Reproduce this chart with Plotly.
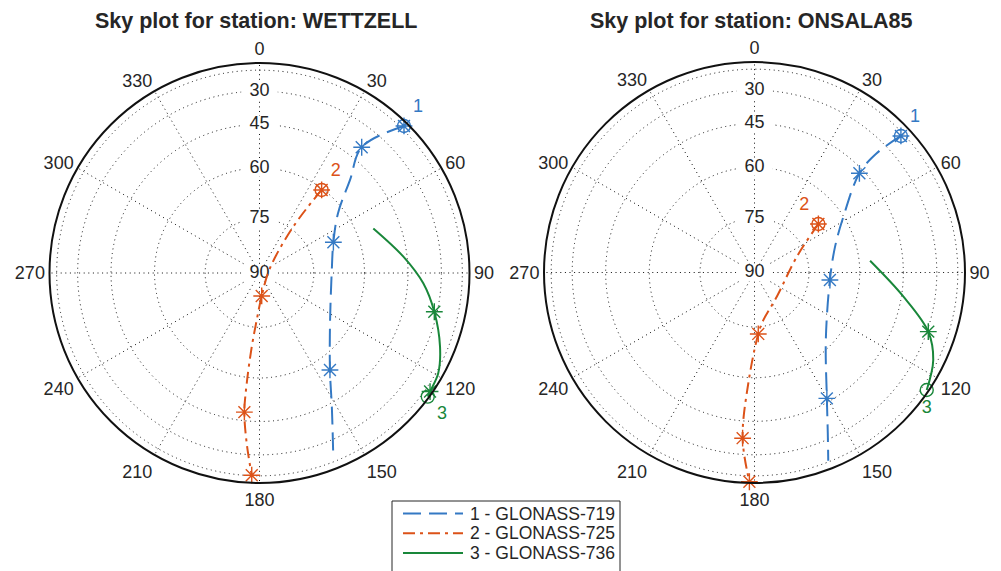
import numpy as np
import plotly.graph_objects as go

# ---- stations and satellites ----
stations = ["WETTZELL", "ONSALA85"]
sat_names = ["1 - GLONASS-719", "2 - GLONASS-725", "3 - GLONASS-736"]
sat_tags = ["1", "2", "3"]

# ---- azimuth / elevation tracks (degrees) ----
# WETTZELL
wtz_az_1 = [44.5, 39.1, 44.2, 52.6, 67.4, 90.2, 125.3, 144.0, 151.6, 157.6]
wtz_el_1 = [11.0, 39.5, 51.8, 61.9, 67.6, 69.9, 65.7, 55.2, 43.6, 23.0]
wtz_star_1 = [0, 1, 4, 7]
wtz_circ_1 = 0

wtz_az_2 = [36.8, 36.1, 65.9, 174.5, 183.4, 186.0, 186.6, 186.2, 184.3, 182.2]
wtz_el_2 = [60.4, 74.2, 86.9, 83.7, 77.0, 69.3, 58.1, 48.2, 35.6, 15.5]
wtz_star_2 = [0, 3, 7, 9]
wtz_circ_2 = 0

wtz_az_3 = [68.6, 83.5, 93.6, 102.5, 112.2, 119.3, 124.8, 126.3]
wtz_el_3 = [54.4, 46.4, 38.6, 31.5, 21.8, 12.6, 8.5, 6.2]
wtz_star_3 = [3, 6]
wtz_circ_3 = 7

# ONSALA85
ons_az_1 = [47.0, 45.7, 46.6, 57.9, 72.2, 95.7, 133.4, 150.1, 155.5, 158.6]
ons_el_1 = [18.0, 35.8, 46.7, 60.1, 66.3, 68.9, 62.2, 46.4, 32.9, 16.2]
ons_star_1 = [0, 2, 5, 7]
ons_circ_1 = 0

ons_az_2 = [52.8, 69.5, 137.5, 169.5, 176.5, 183.2, 184.1, 181.4]
ons_el_2 = [67.6, 77.6, 81.0, 76.7, 73.0, 58.2, 37.9, 6.1]
ons_star_2 = [0, 4, 6, 7]
ons_circ_2 = 0

ons_az_3 = [84.2, 99.2, 108.8, 116.1, 124.3]
ons_el_3 = [56.5, 44.2, 29.3, 19.0, 7.9]
ons_star_3 = [2]
ons_circ_3 = 4

# ---- axis labels ----
az_ticks = list(range(0, 360, 30))
az_ticktext = [str(a) for a in az_ticks]
el_labels = [90, 75, 60, 45, 30]
el_rings = [75, 60, 45, 30, 15]

# ---- styling ----
colors = ["#3479C4", "#DC5218", "#19873A"]
dashes = ["18px,8px", "12px,5px,3px,5px", "solid"]
label_pos = [
    ["top right", "top right", "bottom right"],
    ["top right", "top left", "bottom center"],
]
FONT = "Liberation Sans, Arial, Helvetica, sans-serif"
TXT = "#262626"
GRID = "#111111"


def proj(el):
    # orthographic sky projection: radius = cos(elevation)
    return np.cos(np.radians(np.asarray(el, dtype=float)))


tracks = [
    [
        (wtz_az_1, wtz_el_1, wtz_star_1, wtz_circ_1),
        (wtz_az_2, wtz_el_2, wtz_star_2, wtz_circ_2),
        (wtz_az_3, wtz_el_3, wtz_star_3, wtz_circ_3),
    ],
    [
        (ons_az_1, ons_el_1, ons_star_1, ons_circ_1),
        (ons_az_2, ons_el_2, ons_star_2, ons_circ_2),
        (ons_az_3, ons_el_3, ons_star_3, ons_circ_3),
    ],
]

fig = go.Figure()

for s, st_tracks in enumerate(tracks):
    subplot = "polar" if s == 0 else "polar2"

    # elevation labels along the north spoke, on a white patch
    fig.add_trace(go.Scatterpolar(
        r=proj(el_labels), theta=[0] * len(el_labels),
        text=[str(e) for e in el_labels],
        mode="markers+text", textposition="middle center",
        marker=dict(symbol="line-ew", size=26, color="white",
                    line=dict(color="white", width=17)),
        textfont=dict(family=FONT, size=18, color=TXT),
        cliponaxis=False, hoverinfo="skip", showlegend=False, subplot=subplot,
    ))

    for k, (az, el, stars, circ) in enumerate(st_tracks):
        r = proj(el)
        fig.add_trace(go.Scatterpolar(
            r=r, theta=az, mode="lines", name=sat_names[k],
            line=dict(color=colors[k], width=2, dash=dashes[k], shape="spline"),
            showlegend=False, subplot=subplot,
        ))
        fig.add_trace(go.Scatterpolar(
            r=r[stars], theta=[az[i] for i in stars], mode="markers",
            name=sat_names[k],
            marker=dict(symbol="asterisk-open", size=14, color=colors[k],
                        line=dict(color=colors[k], width=1.4)),
            showlegend=False, subplot=subplot,
        ))
        fig.add_trace(go.Scatterpolar(
            r=[r[circ]], theta=[az[circ]], mode="markers+text",
            name=sat_names[k],
            text=[sat_tags[k]], textposition=label_pos[s][k],
            textfont=dict(family=FONT, size=18, color=colors[k]),
            marker=dict(symbol="circle-open", size=13, color=colors[k],
                        line=dict(color=colors[k], width=1.4)),
            cliponaxis=False, showlegend=False, subplot=subplot,
        ))


def polar_axes(dx, dy):
    return dict(
        domain=dict(x=dx, y=dy),
        bgcolor="white",
        angularaxis=dict(
            rotation=90, direction="clockwise",
            tickmode="array", tickvals=az_ticks, ticktext=az_ticktext,
            showticklabels=True, ticks="",
            tickfont=dict(family=FONT, size=18, color=TXT),
            showline=True, linecolor="#111111", linewidth=2,
            showgrid=True, gridcolor=GRID, gridwidth=1, griddash="1px,3.6px",
        ),
        radialaxis=dict(
            range=[0, 1], tickmode="array", tickvals=list(proj(el_rings)),
            showticklabels=False, ticks="", showline=False,
            showgrid=True, gridcolor=GRID, gridwidth=1, griddash="1px,3.6px",
        ),
    )


W, H = 1001, 571

# legend box drawn below the two sky plots
LEG_X0, LEG_X1, LEG_TOP, LEG_BOT = 392, 620, 501, 585
LEG_ROWS = [513.5, 533.2, 552.9]
LEG_LINE = (403, 463)
LEG_TEXT_X = 468

shapes = [dict(type="rect", xref="paper", yref="paper",
               x0=LEG_X0 / W, x1=LEG_X1 / W,
               y0=(H - LEG_BOT) / H, y1=(H - LEG_TOP) / H,
               line=dict(color=TXT, width=1), fillcolor="white", layer="above")]
annotations = []
for k in range(3):
    yy = (H - LEG_ROWS[k]) / H
    shapes.append(dict(type="line", xref="paper", yref="paper",
                       x0=LEG_LINE[0] / W, x1=LEG_LINE[1] / W, y0=yy, y1=yy,
                       line=dict(color=colors[k], width=2, dash=dashes[k]),
                       layer="above"))
    annotations.append(dict(text=sat_names[k], x=LEG_TEXT_X / W, y=yy,
                            xref="paper", yref="paper", xanchor="left",
                            yanchor="middle", showarrow=False,
                            font=dict(family=FONT, size=17.5, color=TXT)))

for s, cx in enumerate([256, 751]):
    annotations.append(dict(text="<b>Sky plot for station: %s</b>" % stations[s],
                            x=cx / W, y=(H - 21) / H, xref="paper", yref="paper",
                            xanchor="center", yanchor="middle", showarrow=False,
                            font=dict(family=FONT, size=21.5, color=TXT)))

fig.update_layout(
    width=W, height=H,
    margin=dict(l=0, r=0, t=0, b=0, autoexpand=False),
    paper_bgcolor="white", plot_bgcolor="white",
    font=dict(family=FONT, color=TXT),
    polar=polar_axes([49.5 / W, 469.5 / W], [88 / H, 508 / H]),
    polar2=polar_axes([544 / W, 965 / W], [88 / H, 509 / H]),
    showlegend=False,
    shapes=shapes,
    annotations=annotations,
)

fig.write_html("out.html")
